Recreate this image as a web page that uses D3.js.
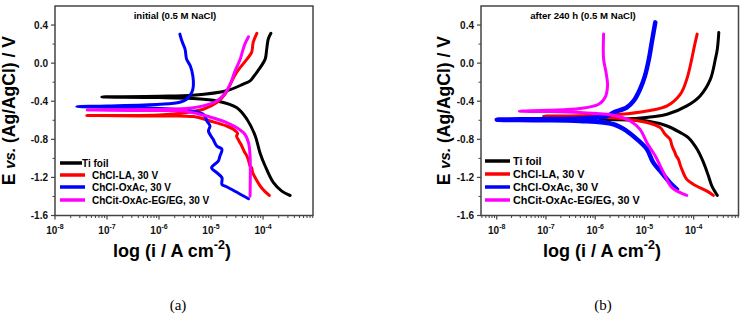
<!DOCTYPE html>
<html>
<head>
<meta charset="utf-8">
<script src="https://cdn.jsdelivr.net/npm/d3@7"></script>
<style>
  body { margin: 0; background: #fff; }
  text { font-family: Arial, "Liberation Sans", sans-serif; }
</style>
</head>
<body>
<div id="chart"></div>
<script>
// ---- data ----
var seriesNames = ["Ti foil", "ChCl-LA, 30 V", "ChCl-OxAc, 30 V", "ChCit-OxAc-EG/EG, 30 V"];
var panelTitles = ["initial (0.5 M NaCl)", "after 240 h (0.5 M NaCl)"];
var panelLetters = ["(a)", "(b)"];
var yTicks = [-1.6, -1.2, -0.8, -0.4, 0.0, 0.4];
var xTickExps = [-8, -7, -6, -5, -4];

// each point: [log10(i / A cm-2), E / V], cathodic end -> Ecorr -> anodic end
// (a) initial
var tiInitial = [[-3.48,-1.39],[-3.64,-1.344],[-3.80,-1.256],[-3.96,-1.08],[-4.06,-0.94],[-4.15,-0.765],
  [-4.31,-0.589],[-4.51,-0.466],[-4.89,-0.397],[-5.35,-0.372],[-6.0,-0.362],[-6.7,-0.358],[-7.10,-0.355],
  [-6.7,-0.352],[-6.0,-0.347],[-5.35,-0.337],[-4.70,-0.29],[-4.38,-0.22],[-4.25,-0.186],[-4.18,-0.14],
  [-4.10,-0.081],[-3.96,0.042],[-3.93,0.147],[-3.90,0.253],[-3.85,0.313]];
var laInitial = [[-3.88,-1.389],[-4.03,-1.308],[-4.15,-1.203],[-4.20,-1.15],[-4.22,-1.10],[-4.25,-1.08],
  [-4.28,-1.02],[-4.31,-0.976],[-4.36,-0.93],[-4.41,-0.87],[-4.46,-0.82],[-4.51,-0.765],[-4.49,-0.74],
  [-4.57,-0.695],[-4.70,-0.66],[-5.02,-0.607],[-5.34,-0.561],[-6.0,-0.555],[-7.39,-0.549],[-6.0,-0.545],
  [-5.47,-0.519],[-5.15,-0.484],[-4.89,-0.414],[-4.73,-0.326],[-4.63,-0.221],[-4.51,-0.098],[-4.31,0.042],
  [-4.22,0.113],[-4.19,0.218],[-4.12,0.313]];
var oxInitial = [[-4.28,-1.424],[-4.70,-1.298],[-4.79,-1.274],[-4.79,-1.203],[-4.89,-1.15],[-4.99,-1.098],
  [-4.86,-1.028],[-4.83,-0.976],[-4.79,-0.905],[-4.89,-0.87],[-4.96,-0.80],[-5.05,-0.713],[-5.02,-0.66],
  [-5.08,-0.607],[-5.15,-0.537],[-5.47,-0.495],[-6.2,-0.47],[-7.0,-0.462],[-7.58,-0.456],[-7.0,-0.45],
  [-5.98,-0.432],[-5.6,-0.41],[-5.47,-0.379],[-5.37,-0.308],[-5.34,-0.239],[-5.35,-0.134],[-5.40,-0.028],
  [-5.47,0.042],[-5.50,0.147],[-5.56,0.232],[-5.60,0.305]];
var egInitial = [[-4.25,-1.397],[-4.25,-0.976],[-4.28,-0.835],[-4.35,-0.747],[-4.51,-0.677],[-4.70,-0.624],
  [-5.02,-0.566],[-5.47,-0.507],[-6.3,-0.497],[-7.38,-0.492],[-6.3,-0.487],[-5.47,-0.477],[-5.15,-0.449],
  [-4.89,-0.397],[-4.73,-0.316],[-4.63,-0.221],[-4.54,-0.084],[-4.44,0.042],[-4.40,0.116],[-4.35,0.20],
  [-4.28,0.277]];

// (b) after 240 h
var tiAged = [[-3.52,-1.389],[-3.63,-1.292],[-3.70,-1.186],[-3.80,-1.045],[-3.93,-0.905],[-4.11,-0.782],
  [-4.27,-0.73],[-4.54,-0.66],[-4.95,-0.607],[-5.5,-0.595],[-5.90,-0.589],[-5.5,-0.586],[-5.22,-0.582],
  [-4.54,-0.537],[-4.14,-0.449],[-3.87,-0.344],[-3.66,-0.168],[-3.56,0.042],[-3.52,0.147],[-3.49,0.323]];
var laAged = [[-3.60,-1.389],[-3.73,-1.344],[-4.0,-1.274],[-4.14,-1.221],[-4.24,-1.116],[-4.28,-1.06],
  [-4.31,-1.01],[-4.36,-0.97],[-4.38,-0.94],[-4.44,-0.871],[-4.48,-0.80],[-4.58,-0.747],[-4.68,-0.677],
  [-4.95,-0.624],[-5.49,-0.582],[-6.3,-0.562],[-7.05,-0.556],[-6.3,-0.552],[-5.49,-0.537],[-4.95,-0.502],
  [-4.54,-0.449],[-4.27,-0.326],[-4.14,-0.168],[-4.04,0.042],[-3.99,0.168],[-3.93,0.305]];
var oxAged = [[-4.34,-1.326],[-4.48,-1.256],[-4.65,-1.151],[-4.82,-1.045],[-4.95,-0.905],[-5.15,-0.80],
  [-5.36,-0.713],[-5.63,-0.642],[-6.31,-0.607],[-7.2,-0.60],[-8.0,-0.594],[-7.2,-0.588],[-6.31,-0.582],
  [-5.76,-0.555],[-5.63,-0.519],[-5.36,-0.466],[-5.22,-0.397],[-5.09,-0.274],[-4.99,-0.134],[-4.91,0.042],
  [-4.84,0.253],[-4.78,0.428]];
var egAged = [[-4.14,-1.389],[-4.44,-1.308],[-4.61,-1.151],[-4.78,-0.976],[-4.95,-0.835],[-5.09,-0.695],
  [-5.29,-0.607],[-5.63,-0.547],[-6.31,-0.519],[-7.0,-0.508],[-7.54,-0.505],[-6.98,-0.495],[-6.31,-0.477],
  [-5.93,-0.432],[-5.80,-0.361],[-5.75,-0.239],[-5.78,-0.098],[-5.83,0.042],[-5.83,0.305]];

// ---- styling / layout ----
var colors = ["#000000", "#ff0000", "#0000ff", "#ff00ff"];
var axisColor = "#444";
var width = 745, height = 317;

var panels = [
  { left: 55, right: 313, xMinExp: -8, xMaxExp: -3.04, series: [tiInitial, laInitial, oxInitial, egInitial],
    widths: [3, 3, 3, 3], legendX: 60, legendY: [163, 175, 187, 200], legendFont: 10,
    titleX: 175, yLabelX: 14.5, xLabelX: 172, letterX: 178 },
  { left: 481, right: 738.5, xMinExp: -8.32, xMaxExp: -3.09, series: [tiAged, laAged, oxAged, egAged],
    widths: [3, 3, 4.5, 3], legendX: 485, legendY: [161, 174, 187, 200], legendFont: 10.8,
    titleX: 583, yLabelX: 449.5, xLabelX: 602, letterX: 603 }
];
var plotTop = 6, plotBottom = 215.5;

var svg = d3.select("#chart").append("svg")
  .attr("width", width).attr("height", height);

panels.forEach(function (p, pi) {
  var x = d3.scaleLog()
    .domain([Math.pow(10, p.xMinExp), Math.pow(10, p.xMaxExp)])
    .range([p.left, p.right]);
  var y = d3.scaleLinear().domain([-1.6, 0.6]).range([plotBottom, plotTop]);

  var g = svg.append("g");

  // clip so curves stay inside the frame
  g.append("clipPath").attr("id", "clip" + pi)
    .append("rect").attr("x", p.left).attr("y", plotTop)
    .attr("width", p.right - p.left).attr("height", plotBottom - plotTop);

  var line = d3.line()
    .x(function (d) { return x(Math.pow(10, d[0])); })
    .y(function (d) { return y(d[1]); })
    .curve(d3.curveCatmullRom.alpha(0.5));

  var curves = g.append("g").attr("clip-path", "url(#clip" + pi + ")");
  p.series.forEach(function (s, i) {
    curves.append("path")
      .attr("d", line(s))
      .attr("fill", "none")
      .attr("stroke", colors[i])
      .attr("stroke-width", p.widths[i])
      .attr("stroke-linejoin", "round")
      .attr("stroke-linecap", "round");
  });

  // frame
  g.append("rect")
    .attr("x", p.left).attr("y", plotTop)
    .attr("width", p.right - p.left).attr("height", plotBottom - plotTop)
    .attr("fill", "none").attr("stroke", axisColor).attr("stroke-width", 1.5);

  // x axis: major + minor ticks
  var majors = xTickExps.map(function (e) { return Math.pow(10, e); });
  var minors = x.ticks().filter(function (v) {
    var l = Math.log10(v);
    return Math.abs(l - Math.round(l)) > 1e-6;
  });
  var xAx = g.append("g").attr("transform", "translate(0," + plotBottom + ")");
  xAx.selectAll("line.maj").data(majors).enter().append("line")
    .attr("x1", x).attr("x2", x).attr("y1", 0).attr("y2", 4)
    .attr("stroke", axisColor).attr("stroke-width", 1.2);
  xAx.selectAll("line.min").data(minors).enter().append("line")
    .attr("x1", x).attr("x2", x).attr("y1", 0).attr("y2", 2.5)
    .attr("stroke", axisColor).attr("stroke-width", 1);
  var xl = xAx.selectAll("text").data(xTickExps).enter().append("text")
    .attr("x", function (e) { return x(Math.pow(10, e)); })
    .attr("y", 18)
    .attr("text-anchor", "middle")
    .attr("font-size", 10).attr("font-weight", "bold").attr("fill", "#111");
  xl.append("tspan").text("10");
  xl.append("tspan").attr("dy", -5).attr("font-size", 7).text(function (e) { return e; });

  // y axis
  var yMinor = d3.range(-1.4, 0.6, 0.4);
  var yAx = g.append("g").attr("transform", "translate(" + p.left + ",0)");
  yAx.selectAll("line.maj").data(yTicks).enter().append("line")
    .attr("x1", -4).attr("x2", 0).attr("y1", y).attr("y2", y)
    .attr("stroke", axisColor).attr("stroke-width", 1.2);
  yAx.selectAll("line.min").data(yMinor).enter().append("line")
    .attr("x1", -2.5).attr("x2", 0).attr("y1", y).attr("y2", y)
    .attr("stroke", axisColor).attr("stroke-width", 1);
  yAx.selectAll("text").data(yTicks).enter().append("text")
    .attr("x", -7).attr("y", function (d) { return y(d) + 3.5; })
    .attr("text-anchor", "end")
    .attr("font-size", 10).attr("font-weight", "bold").attr("fill", "#111")
    .text(function (d) { return d.toFixed(1); });

  // panel title
  g.append("text")
    .attr("x", p.titleX).attr("y", 19)
    .attr("text-anchor", "middle")
    .attr("font-size", 9.6).attr("font-weight", "bold")
    .text(panelTitles[pi]);

  // axis titles
  var yl = g.append("text")
    .attr("transform", "translate(" + p.yLabelX + "," + ((plotTop + plotBottom) / 2) + ") rotate(-90)")
    .attr("text-anchor", "middle")
    .attr("font-size", 17.5).attr("font-weight", "bold");
  yl.append("tspan").text("E ");
  yl.append("tspan").attr("font-style", "italic").attr("font-size", 15).text("vs.");
  yl.append("tspan").text(" (Ag/AgCl) / V");

  var xlab = g.append("text")
    .attr("x", p.xLabelX).attr("y", 257)
    .attr("text-anchor", "middle")
    .attr("font-size", 18).attr("font-weight", "bold");
  xlab.append("tspan").text("log (i / A cm");
  xlab.append("tspan").attr("dy", -8).attr("font-size", 12.5).text("-2");
  xlab.append("tspan").attr("dy", 8).text(")");

  // legend
  var leg = g.append("g");
  seriesNames.forEach(function (name, i) {
    var ly = p.legendY[i];
    leg.append("line")
      .attr("x1", p.legendX).attr("x2", p.legendX + (pi === 0 && i === 0 ? 22 : 25))
      .attr("y1", ly).attr("y2", ly)
      .attr("stroke", colors[i]).attr("stroke-width", 3.5);
    leg.append("text")
      .attr("x", pi === 0 ? (i === 0 ? 82 : 92) : p.legendX + 28)
      .attr("y", ly + 3.6)
      .attr("font-size", p.legendFont).attr("font-weight", "bold")
      .text(name);
  });

  // panel letter
  svg.append("text")
    .attr("x", p.letterX).attr("y", 310)
    .attr("text-anchor", "middle")
    .style("font-family", "'Liberation Serif', 'Times New Roman', serif")
    .attr("font-size", 15)
    .text(panelLetters[pi]);
});
</script>
</body>
</html>
